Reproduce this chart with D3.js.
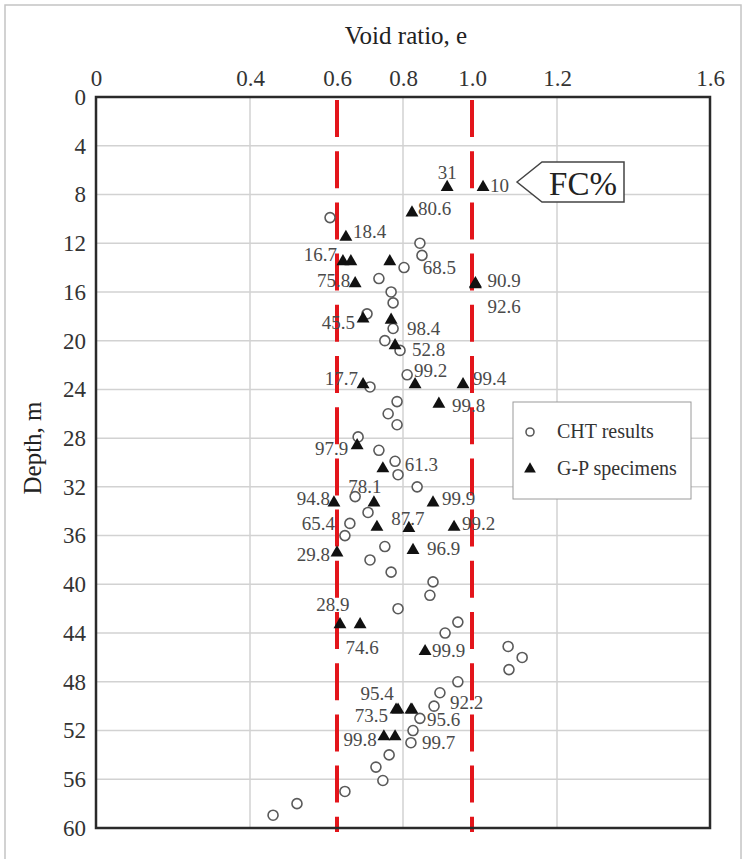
<!DOCTYPE html>
<html>
<head>
<meta charset="utf-8">
<script src="https://cdn.jsdelivr.net/npm/d3@7"></script>
<style>
  html, body { margin: 0; padding: 0; background: #fff; }
  svg, svg text { font-family: "Liberation Serif", "DejaVu Serif", serif; }
</style>
</head>
<body>
<svg id="chart" width="746" height="859"></svg>
<script>
// Void ratio axis ticks (the axis is stretched unevenly, so a piecewise scale is used)
const xTicks = [0, 0.4, 0.6, 0.8, 1.0, 1.2, 1.6];
const xTickLabels = ["0", "0.4", "0.6", "0.8", "1.0", "1.2", "1.6"];
const xGrid = [0.4, 0.8, 1.2];
const depthTicks = [0, 4, 8, 12, 16, 20, 24, 28, 32, 36, 40, 44, 48, 52, 56, 60];
const criteriaVoid = [0.6, 1.0];

// CHT results: void ratio and depth (m)
const chtVoid = [0.584, 0.849, 0.855, 0.803, 0.727, 0.764, 0.770, 0.691, 0.770, 0.745,
  0.791, 0.812, 0.700, 0.782, 0.755, 0.782, 0.664, 0.727, 0.776, 0.785,
  0.841, 0.655, 0.694, 0.639, 0.624, 0.745, 0.700, 0.764, 0.887, 0.878,
  0.785, 0.959, 0.922, 1.085, 1.118, 1.087, 0.959, 0.907, 0.890, 0.849,
  0.829, 0.823, 0.758, 0.718, 0.739, 0.624, 0.508, 0.453];
const chtDepth = [9.9, 12.0, 13.0, 14.0, 14.9, 16.0, 16.9, 17.8, 19.0, 20.0,
  20.8, 22.8, 23.8, 25.0, 26.0, 26.9, 27.9, 29.0, 29.9, 31.0,
  32.0, 32.8, 34.1, 35.0, 36.0, 36.9, 38.0, 39.0, 39.8, 40.9,
  42.0, 43.1, 44.0, 45.1, 46.0, 47.0, 48.0, 48.9, 50.0, 51.0,
  52.0, 53.0, 54.0, 55.0, 56.1, 57.0, 58.0, 58.95];

// G-P specimens: void ratio, depth (m) and fines content FC (%)
const gpVoid = [0.928, 1.026, 0.826, 0.627, 0.618, 0.642, 0.760, 0.655, 1.008, 1.008,
  0.679, 0.764, 0.776, 0.835, 0.679, 0.974, 0.904, 0.661, 0.739, 0.712,
  0.593, 0.887, 0.721, 0.817, 0.948, 0.600, 0.829, 0.609, 0.670, 0.864,
  0.779, 0.785, 0.823, 0.826, 0.742, 0.776];
const gpDepth = [7.4, 7.4, 9.5, 11.5, 13.5, 13.5, 13.5, 15.3, 15.3, 15.4,
  18.2, 18.3, 20.4, 23.6, 23.6, 23.6, 25.2, 28.6, 30.5, 33.3,
  33.3, 33.3, 35.3, 35.4, 35.3, 37.4, 37.2, 43.3, 43.3, 45.5,
  50.3, 50.3, 50.3, 50.3, 52.5, 52.5];
const gpFC = ["31", "10", "80.6", "18.4", "16.7", "", "68.5", "75.8", "90.9", "92.6",
  "45.5", "98.4", "52.8", "99.2", "17.7", "99.4", "99.8", "97.9", "61.3", "78.1",
  "94.8", "99.9", "65.4", "87.7", "99.2", "29.8", "96.9", "28.9", "74.6", "99.9",
  "73.5", "95.4", "92.2", "95.6", "99.8", "99.7"];

// FC label placement next to each triangle: [text-anchor, dx, baseline dy]
const fcLabelPlacement = [
  ["middle", 0, -8], ["start", 7, 5], ["start", 6, 2], ["start", 7, 1], ["end", -6, 0],
  ["start", 0, 0], ["start", 33, 13], ["end", -5, 4], ["start", 12, 4], ["start", 12, 28],
  ["end", -8, 10], ["start", 16, 15], ["start", 17, 10], ["start", -1, -8], ["end", -5, 0],
  ["start", 10, 0], ["start", 13, 8], ["end", -9, 10], ["start", 22, 2], ["middle", -9, -10],
  ["end", -4, 2], ["start", 9, 2], ["end", -42, 3], ["middle", -1, -3], ["start", 8, 3],
  ["end", -7, 8], ["start", 14, 5], ["middle", -7, -14], ["middle", 2, 29], ["start", 7, 6],
  ["end", -8, 12], ["middle", -21, -10], ["start", 39, -1], ["start", 15, 16], ["end", -7, 9],
  ["start", 27, 12]
];

const legendLabels = ["CHT results", "G-P specimens"];

const svg = d3.select("#chart");
const plot = { left: 96, right: 710, top: 97, bottom: 828 };

const x = d3.scaleLinear()
  .domain(xTicks)
  .range([96, 250, 337, 403, 472, 557, 710]);
const y = d3.scaleLinear().domain([0, 60]).range([plot.top, plot.bottom]);

// outer border of the figure
svg.append("rect")
  .attr("x", 5).attr("y", 5).attr("width", 736).attr("height", 860)
  .attr("fill", "none").attr("stroke", "#c4c4c4").attr("stroke-width", 1.5);

// grid
const grid = svg.append("g");
grid.selectAll("line.h").data(depthTicks.slice(1, -1)).join("line")
  .attr("x1", plot.left).attr("x2", plot.right)
  .attr("y1", d => y(d)).attr("y2", d => y(d))
  .attr("stroke", "#d2d2d2").attr("stroke-width", 1.5);
grid.selectAll("line.v").data(xGrid).join("line")
  .attr("x1", d => x(d)).attr("x2", d => x(d))
  .attr("y1", plot.top).attr("y2", plot.bottom)
  .attr("stroke", "#d2d2d2").attr("stroke-width", 1.5);

// axes (labels only, no tick marks)
const xAxis = d3.axisTop(x).tickValues(xTicks)
  .tickFormat((d, i) => xTickLabels[i]).tickSize(0).tickPadding(11);
svg.append("g").attr("transform", `translate(0,${plot.top})`).call(xAxis)
  .attr("font-family", null)
  .call(g => g.select(".domain").remove())
  .selectAll("text")
  .attr("font-size", 23).attr("fill", "#333");

const yAxis = d3.axisLeft(y).tickValues(depthTicks).tickSize(0).tickPadding(10);
svg.append("g").attr("transform", `translate(${plot.left},0)`).call(yAxis)
  .attr("font-family", null)
  .call(g => g.select(".domain").remove())
  .selectAll("text")
  .attr("font-size", 23).attr("fill", "#333");

// axis titles
svg.append("text")
  .attr("x", 406).attr("y", 44)
  .attr("text-anchor", "middle").attr("font-size", 25).attr("fill", "#222")
  .text("Void ratio, e");
svg.append("text")
  .attr("transform", "translate(41,448) rotate(-90)")
  .attr("text-anchor", "middle").attr("font-size", 25).attr("fill", "#222")
  .text("Depth, m");

// criteria lines
svg.selectAll("line.crit").data(criteriaVoid).join("line")
  .attr("x1", d => x(d)).attr("x2", d => x(d))
  .attr("y1", 100).attr("y2", 832)
  .attr("stroke", "#e3151b").attr("stroke-width", 4)
  .attr("stroke-dasharray", "37,14.2");

// plot frame
svg.append("rect")
  .attr("x", plot.left).attr("y", plot.top)
  .attr("width", plot.right - plot.left).attr("height", plot.bottom - plot.top)
  .attr("fill", "none").attr("stroke", "#2a2a2a").attr("stroke-width", 2.5);

// CHT results
svg.append("g").selectAll("circle").data(chtVoid).join("circle")
  .attr("cx", d => x(d)).attr("cy", (d, i) => y(chtDepth[i]))
  .attr("r", 5)
  .attr("fill", "#fff").attr("stroke", "#5a5a5a").attr("stroke-width", 1.6);

// G-P specimens
const tri = d3.symbol().type(d3.symbolTriangle).size(72);
svg.append("g").selectAll("path").data(gpVoid).join("path")
  .attr("d", tri)
  .attr("transform", (d, i) => `translate(${x(d)},${y(gpDepth[i])})`)
  .attr("fill", "#111");

// FC labels
svg.append("g").selectAll("text").data(gpFC).join("text")
  .attr("x", (d, i) => x(gpVoid[i]) + fcLabelPlacement[i][1])
  .attr("y", (d, i) => y(gpDepth[i]) + fcLabelPlacement[i][2])
  .attr("text-anchor", (d, i) => fcLabelPlacement[i][0])
  .attr("font-size", 19).attr("fill", "#4a4a4a")
  .text(d => d);

// FC% callout
const callout = svg.append("g");
callout.append("path")
  .attr("d", "M517,182 L542,162 L624,162 L624,202 L542,202 Z")
  .attr("fill", "#fff").attr("stroke", "#444").attr("stroke-width", 1.5);
callout.append("text")
  .attr("x", 583).attr("y", 195)
  .attr("text-anchor", "middle").attr("font-size", 33).attr("fill", "#222")
  .text("FC%");

// legend
const legend = svg.append("g");
legend.append("rect")
  .attr("x", 513).attr("y", 402).attr("width", 178).attr("height", 97)
  .attr("fill", "#fff").attr("stroke", "#9a9a9a").attr("stroke-width", 1);
legend.append("circle")
  .attr("cx", 530).attr("cy", 432).attr("r", 4)
  .attr("fill", "#fff").attr("stroke", "#5a5a5a").attr("stroke-width", 1.6);
legend.append("path")
  .attr("d", d3.symbol().type(d3.symbolTriangle).size(60))
  .attr("transform", "translate(530,469)").attr("fill", "#111");
legend.selectAll("text").data(legendLabels).join("text")
  .attr("x", 557).attr("y", (d, i) => 438 + i * 37)
  .attr("font-size", 20).attr("fill", "#333")
  .text(d => d);
</script>
</body>
</html>
